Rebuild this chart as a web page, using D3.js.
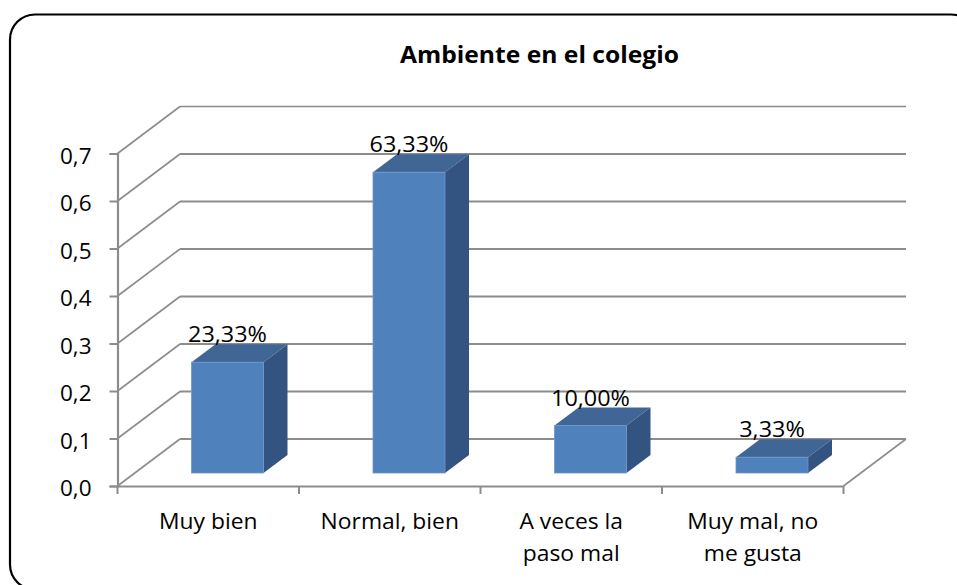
<!DOCTYPE html>
<html><head><meta charset="utf-8">
<script src="https://cdn.jsdelivr.net/npm/d3@7/dist/d3.min.js"></script>
<style>html,body{margin:0;padding:0;background:#fff;overflow:hidden}svg{display:block}text{font-family:"Open Sans",Lato,sans-serif;fill:#000}</style>
</head><body><svg id="c" width="957" height="585"></svg>
<script>
const chartTitle = "Ambiente en el colegio";
const categories = ["Muy bien","Normal, bien","A veces la|paso mal","Muy mal, no|me gusta"];
const values = [0.2333,0.6333,0.10,0.0333];
const valueLabels = ["23,33%","63,33%","10,00%","3,33%"];
const yTicks = [0,0.1,0.2,0.3,0.4,0.5,0.6,0.7];

const frontL=117.5,frontR=843.5,front0=486,front7=153.5;
const dx=62.5,dy=-47;          // depth of the floor / wall
const barDx=24,barDy=-18;      // depth of a bar
const gridCol="#8c8c8c";
const svg=d3.select("#c");

// stretch a text to a given share of its natural width
const stretch=(sel,k)=>sel.each(function(){
  d3.select(this).attr("textLength",this.getComputedTextLength()*k).attr("lengthAdjust","spacingAndGlyphs");
});

svg.append("rect").attr("x",10).attr("y",14.5).attr("width",966).attr("height",575)
  .attr("rx",25).attr("ry",25).attr("fill","#fff").attr("stroke","#000").attr("stroke-width",2.2);

svg.append("text").attr("x",539.5).attr("y",63).attr("text-anchor","middle")
  .attr("font-size",23).attr("font-weight",700).attr("textLength",279).attr("lengthAdjust","spacingAndGlyphs").text(chartTitle);

const y=d3.scaleLinear().domain([0,0.7]).range([front0,front7]);
const x=d3.scaleBand().domain(categories).range([frontL,frontR]).paddingInner(0).paddingOuter(0);

// walls and gridlines
const grid=svg.append("g").attr("fill","none").attr("stroke",gridCol);
yTicks.forEach(t=>{
  grid.append("line").attr("x1",frontL).attr("y1",y(t)).attr("x2",frontL+dx).attr("y2",y(t)+dy).attr("stroke-width",1.6);
  grid.append("line").attr("x1",frontL+dx).attr("y1",y(t)+dy).attr("x2",frontR+dx).attr("y2",y(t)+dy).attr("stroke-width",t===0.7?1.5:2);
});
grid.append("line").attr("x1",frontR).attr("y1",y(0)).attr("x2",frontR+dx).attr("y2",y(0)+dy).attr("stroke-width",1.6);

// axes
const yAxis=d3.axisLeft(y).tickValues(yTicks).tickSize(8).tickPadding(18).tickFormat(d=>d3.format(".1f")(d).replace(".",","));
const gy=svg.append("g").attr("transform",`translate(${frontL},0)`).call(yAxis);
gy.selectAll("text").attr("font-size",22.5).attr("font-family",'"Open Sans"').attr("dy",9.5);
const xAxis=d3.axisBottom(x).tickValues([]).tickSize(0);
const gx=svg.append("g").attr("transform",`translate(0,${front0})`).call(xAxis);
const edges=[...categories.map(c=>x(c)),frontR];
gx.selectAll("line.edge").data(edges).join("line").attr("class","edge")
  .attr("x1",d=>d).attr("x2",d=>d).attr("y1",0).attr("y2",8).attr("stroke",gridCol).attr("stroke-width",2);
svg.selectAll(".domain").attr("stroke",gridCol).attr("stroke-width",2.2);
svg.selectAll(".tick line").attr("stroke",gridCol).attr("stroke-width",2);

// bars
const barW=x.bandwidth()*0.3967;
const barFloor=front0-13;
const barGroups=svg.selectAll("g.bar").data(values.map((v,i)=>({v,c:categories[i],l:valueLabels[i]}))).join("g").attr("class","bar");
barGroups.each(function(d){
  const g=d3.select(this);
  const x0=x(d.c)+x.bandwidth()/2+(dx-barDx)/2-barW/2, x1=x0+barW;
  const top=barFloor-(y(0)-y(d.v));
  g.append("polygon").attr("fill","#3f6694")
   .attr("points",[[x0,top],[x0+barDx,top+barDy],[x1+barDx,top+barDy],[x1,top]].join(" "));
  g.append("polygon").attr("fill","#335480")
   .attr("points",[[x1,top],[x1+barDx,top+barDy],[x1+barDx,barFloor+barDy],[x1,barFloor]].join(" "));
  g.append("rect").attr("x",x0).attr("y",top).attr("width",barW).attr("height",barFloor-top)
   .attr("fill","#4f81bd").attr("stroke","#6c97cb").attr("stroke-width",0.8);
  g.append("text").attr("x",(x0+x1)/2).attr("y",top-20).attr("text-anchor","middle").attr("font-size",22.5).text(d.l).call(stretch,1.04);
});

// category labels
categories.forEach(c=>{
  const cx=x(c)+x.bandwidth()/2;
  c.split("|").forEach((s,i)=>{
    svg.append("text").attr("x",cx).attr("y",529+i*31.5).attr("text-anchor","middle").attr("font-size",22.5).text(s).call(stretch,1.015);
  });
});
</script></body></html>
